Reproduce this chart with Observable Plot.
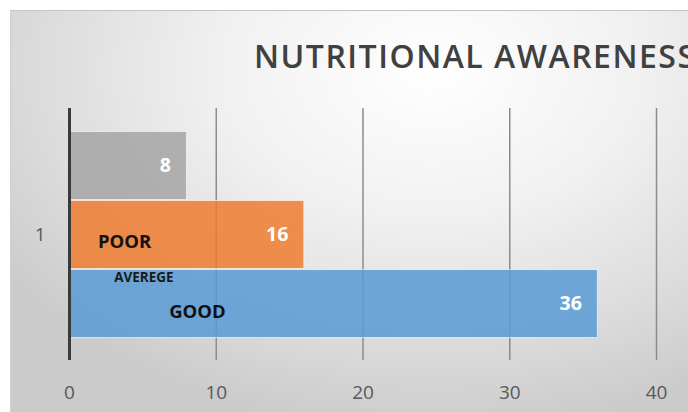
<!DOCTYPE html>
<html>
<head>
<meta charset="utf-8">
<script src="https://cdn.jsdelivr.net/npm/d3@7"></script>
<script src="https://cdn.jsdelivr.net/npm/@observablehq/plot@0.6"></script>
<style>
  html, body { margin: 0; padding: 0; background: #fff; }
  #wrap { position: relative; width: 688px; height: 412px; overflow: hidden; font-family: "Open Sans", sans-serif; }
  #bg { position: absolute; left: 10px; top: 10px; right: -20px; bottom: -20px;
        border-top: 1.5px solid #c4c4c4; border-left: 1px solid #d0d0d0;
        background: radial-gradient(ellipse 520px 360px at 420px 60px, #ffffff 0%, #f1f1f1 40%, #dcdcdc 75%, #cbcbcb 100%); }
  #title { position: absolute; left: 254px; top: 34px; line-height: normal; white-space: nowrap; font-size: 32px; font-weight: 600; color: #404040; letter-spacing: 1.5px; }
  #chart { position: absolute; left: 0; top: 0; }
  #chart svg { background: transparent; overflow: visible; }
</style>
</head>
<body>
<div id="wrap">
  <div id="bg"></div>
  <div id="title">NUTRITIONAL AWARENESS</div>
  <div id="chart"></div>
</div>
<script>
// Data
const categories = ["1"];
const series = ["Series3", "Series2", "Series1"];   // top to bottom
const values = [8, 16, 36];
const colors = ["#A5A5A5", "#ED7D31", "#5B9BD5"];
const xTicks = [0, 10, 20, 30, 40];
const annotationText = ["POOR", "AVEREGE", "GOOD"];

const data = series.map((s, i) => ({ category: categories[0], series: s, value: values[i] }));

const chart = Plot.plot({
  width: 688,
  height: 412,
  marginLeft: 69,
  marginRight: 32,
  marginTop: 108,
  marginBottom: 52,
  style: { fontFamily: "'Open Sans', sans-serif", background: "transparent" },
  x: { domain: [0, 40], ticks: xTicks, tickSize: 0, tickPadding: 25, label: null },
  y: { domain: series, axis: null, paddingInner: 0, paddingOuter: 0.32 },
  fy: { domain: categories, label: null, tickSize: 0, tickPadding: 24, padding: 0 },
  color: { domain: series, range: colors },
  marks: [
    Plot.gridX(xTicks.filter(t => t !== 0), { stroke: "#8c8c8c", strokeWidth: 1.5, strokeOpacity: 1 }),
    Plot.barX(data, { x: "value", y: "series", fy: "category", fill: "series", fillOpacity: 0.86,
      stroke: "#ffffff", strokeWidth: 1, strokeOpacity: 0.6, insetTop: 0.5, insetBottom: 0.5 }),
    Plot.ruleX([0], { stroke: "#3a3a3a", strokeWidth: 3 }),
    Plot.text(data, { x: "value", y: "series", fy: "category", text: d => String(d.value),
      textAnchor: "end", dx: -16, fill: "#ffffff", fontWeight: "bold", fontSize: 19.5 }),
    Plot.text([annotationText[0]], { x: () => 3.75, y: () => series[1], fy: () => categories[0], text: d => d,
      dy: 7, fill: "#111", fontWeight: "bold", fontSize: 18.5 }),
    Plot.text([annotationText[1]], { x: () => 5.07, y: () => series[2], fy: () => categories[0], text: d => d,
      dy: -26, fill: "#1a1a1a", fontWeight: "bold", fontSize: 13.5 }),
    Plot.text([annotationText[2]], { x: () => 8.72, y: () => series[2], fy: () => categories[0], text: d => d,
      dy: 8.5, fill: "#111", fontWeight: "bold", fontSize: 18.5 })
  ]
});

const xl = chart.querySelector("[aria-label='x-axis tick label']");
if (xl) { xl.setAttribute("font-size", 19); xl.setAttribute("fill", "#595959"); }
const fl = chart.querySelector("[aria-label='fy-axis tick label']");
if (fl) { fl.setAttribute("font-size", 19); fl.setAttribute("fill", "#595959"); }

document.getElementById("chart").appendChild(chart);
</script>
</body>
</html>
